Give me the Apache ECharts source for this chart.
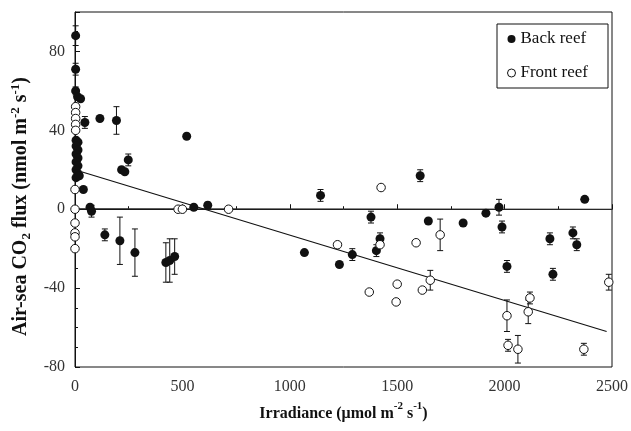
<!DOCTYPE html>
<html>
<head>
<meta charset="utf-8">
<script src="https://cdn.jsdelivr.net/npm/echarts@6/dist/echarts.min.js"></script>
<style>html,body{margin:0;padding:0;background:#fff}#c{width:631px;height:431px}</style>
</head>
<body>
<div id="c"></div>
<script>
// [irradiance, flux, error]
const backReef = [
  [3, 88, 5], [3, 71, 3], [3, 60, 2], [12, 57, 0], [26, 56, 0], [46, 44, 3], [116, 46, 0], [193, 45, 7],
  [5, 35, 0], [14, 34, 0], [5, 32, 0], [14, 30, 0], [5, 28, 0], [14, 26, 0], [5, 24, 0], [14, 22, 0],
  [5, 20, 0], [14, 18, 0], [5, 16, 0], [20, 17, 0],
  [248, 25, 3], [217, 20, 0], [232, 19, 0], [39, 10, 0], [77, -1, 3], [70, 1, 0],
  [139, -13, 3], [209, -16, 12], [279, -22, 12], [423, -27, 10], [441, -26, 11], [464, -24, 9],
  [520, 37, 0], [553, 1, 0], [618, 2, 1.5], [1143, 7, 3], [1068, -22, 0], [1231, -28, 0],
  [1291, -23, 3], [1378, -4, 3], [1403, -21, 3], [1420, -15, 3], [1607, 17, 3], [1645, -6, 0],
  [1807, -7, 0], [1913, -2, 0], [1974, 1, 4], [1988, -9, 3], [2011, -29, 3], [2211, -15, 3],
  [2225, -33, 3], [2318, -12, 3], [2336, -18, 3], [2373, 5, 0]
];
const frontReef = [
  [3, 52, 0], [3, 49, 0], [3, 46, 0], [3, 43, 0], [3, 40, 0], [0, 10, 0], [0, 0, 0],
  [0, -7, 0], [0, -12, 0], [0, -14, 0], [0, -20, 0],
  [480, 0, 0], [500, 0, 0], [715, 0, 0], [1222, -18, 0], [1425, 11, 0], [1370, -42, 0],
  [1420, -18, 0], [1588, -17, 0], [1700, -13, 8], [1500, -38, 0], [1495, -47, 0], [1617, -41, 0],
  [1654, -36, 5], [2011, -54, 8], [2118, -45, 3], [2110, -52, 6], [2016, -69, 3], [2062, -71, 7],
  [2369, -71, 3], [2485, -37, 4]
];
const fitFlat = [[0, 0.3], [2500, 0]];
const fitSlope = [[30, 19], [2475, -62]];

const serif = '"Liberation Serif", "DejaVu Serif", serif';

function errBars(data) {
  return {
    type: 'custom',
    data: data.filter(d => d[2] > 0),
    z: 1,
    silent: true,
    renderItem: function (params, api) {
      const x = api.value(0), y = api.value(1), e = api.value(2);
      const hi = api.coord([x, y + e]);
      const lo = api.coord([x, y - e]);
      const w = 3;
      const st = { stroke: '#111', lineWidth: 1 };
      return {
        type: 'group',
        children: [
          { type: 'line', shape: { x1: hi[0], y1: hi[1], x2: lo[0], y2: lo[1] }, style: st },
          { type: 'line', shape: { x1: hi[0] - w, y1: hi[1], x2: hi[0] + w, y2: hi[1] }, style: st },
          { type: 'line', shape: { x1: lo[0] - w, y1: lo[1], x2: lo[0] + w, y2: lo[1] }, style: st }
        ]
      };
    }
  };
}

const chart = echarts.init(document.getElementById('c'));
chart.setOption({
  animation: false,
  backgroundColor: '#fff',
  grid: { left: 75, right: 18, top: 12, bottom: 64, show: true, borderColor: '#111', borderWidth: 1 },
  legend: {
    left: 497, top: 24,
    orient: 'vertical', itemGap: 16,
    padding: [6, 20, 6, 10],
    borderColor: '#111', borderWidth: 1,
    itemWidth: 8, itemHeight: 8,
    textStyle: { fontFamily: serif, fontSize: 17, lineHeight: 18, color: '#111' },
    data: [
      { name: 'Back reef', icon: 'circle', itemStyle: { color: '#111', borderWidth: 0 } },
      { name: 'Front reef', icon: 'circle', itemStyle: { color: '#fff', borderColor: '#111', borderWidth: 1 } }
    ]
  },
  xAxis: {
    type: 'value', min: 0, max: 2500, interval: 500,
    axisLine: { show: true, lineStyle: { color: '#111' } },
    axisTick: { inside: true, length: 5, lineStyle: { color: '#111' } },
    minorTick: { show: true, splitNumber: 2, length: 3, lineStyle: { color: '#111' } },
    splitLine: { show: false },
    axisLabel: { fontFamily: serif, fontSize: 16, color: '#333', margin: 12, formatter: v => String(v) },
    name: '{a|Irradiance (μmol m}{s|-2}{a| s}{s|-1}{a|)}',
    nameLocation: 'middle', nameGap: 34,
    nameTextStyle: {
      rich: {
        a: { fontFamily: serif, fontSize: 16, fontWeight: 'bold', color: '#111', lineHeight: 21, verticalAlign: 'bottom' },
        s: { fontFamily: serif, fontSize: 11, fontWeight: 'bold', color: '#111', verticalAlign: 'top', lineHeight: 21 }
      }
    }
  },
  yAxis: {
    type: 'value', min: -80, max: 100, interval: 40,
    axisLine: { show: true, lineStyle: { color: '#111' } },
    axisTick: { inside: true, length: 5, lineStyle: { color: '#111' } },
    minorTick: { show: true, splitNumber: 4, length: 3, lineStyle: { color: '#111' } },
    splitLine: { show: false },
    axisLabel: { fontFamily: serif, fontSize: 16, color: '#333', margin: 10, showMaxLabel: false,
      formatter: v => (v > 90 ? '' : String(v)) },
    name: '{a|Air-sea CO}{b|2}{a| flux (nmol m}{s|-2}{a| s}{s|-1}{a|)}',
    nameLocation: 'middle', nameGap: 40, nameRotate: 90,
    nameTextStyle: {
      padding: [0, 34, 0, 0],
      rich: {
        a: { fontFamily: serif, fontSize: 20, fontWeight: 'bold', color: '#111', lineHeight: 24, verticalAlign: 'middle' },
        s: { fontFamily: serif, fontSize: 13, fontWeight: 'bold', color: '#111', verticalAlign: 'top', lineHeight: 24 },
        b: { fontFamily: serif, fontSize: 13, fontWeight: 'bold', color: '#111', verticalAlign: 'bottom', lineHeight: 24 }
      }
    }
  },
  series: [
    { type: 'line', data: fitFlat, symbol: 'none', lineStyle: { color: '#333', width: 1 }, z: 1, silent: true },
    { type: 'line', data: fitSlope, symbol: 'none', lineStyle: { color: '#111', width: 1.2 }, z: 1, silent: true },
    errBars(backReef),
    errBars(frontReef),
    {
      name: 'Back reef', type: 'scatter', symbol: 'circle', symbolSize: 9, z: 3,
      data: backReef.map(d => [d[0], d[1]]),
      itemStyle: { color: '#111', borderWidth: 0, opacity: 1 }
    },
    {
      name: 'Front reef', type: 'scatter', symbol: 'circle', symbolSize: 8.5, z: 4,
      data: frontReef.map(d => [d[0], d[1]]),
      itemStyle: { color: '#fff', borderColor: '#111', borderWidth: 1, opacity: 1 }
    }
  ]
});
</script>
</body>
</html>
